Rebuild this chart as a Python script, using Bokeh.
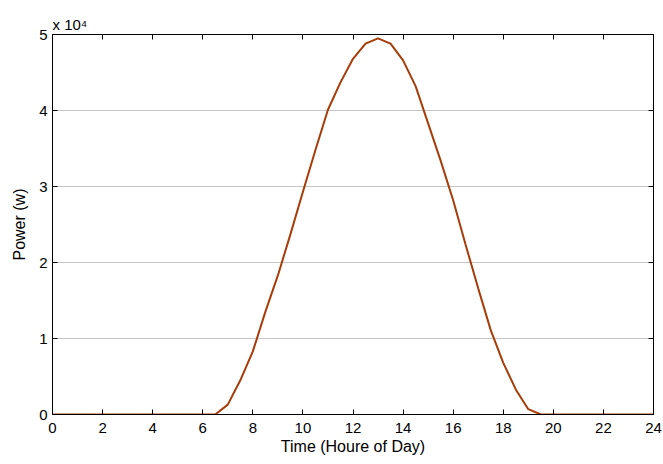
from bokeh.plotting import figure
from bokeh.models import LinearAxis, FixedTicker, Range1d
from bokeh.embed import file_html
from bokeh.resources import INLINE

# Hour of day
time_h = [0, 0.5, 1, 1.5, 2, 2.5, 3, 3.5, 4, 4.5, 5, 5.5, 6, 6.5,
          7, 7.5, 8, 8.5, 9, 9.5, 10, 10.5, 11, 11.5, 12, 12.5, 13, 13.5,
          14, 14.5, 15, 15.5, 16, 16.5, 17, 17.5, 18, 18.5, 19, 19.5,
          20, 20.5, 21, 21.5, 22, 22.5, 23, 23.5, 24]
# Power (W)
power_w = [0, 0, 0, 0, 0, 0, 0, 0, 0, 0, 0, 0, 0, 0,
           1300, 4500, 8300, 13500, 18300, 23700, 29300, 34800, 40100, 43700,
           46800, 48800, 49500, 48800,
           46600, 43200, 38300, 33400, 28200, 22300, 16600, 11100, 6800, 3300,
           700, 0,
           0, 0, 0, 0, 0, 0, 0, 0, 0]

x_ticks = [0, 2, 4, 6, 8, 10, 12, 14, 16, 18, 20, 22, 24]
y_ticks = [0, 10000, 20000, 30000, 40000, 50000]
y_tick_labels = ["0", "1", "2", "3", "4", "5"]
y_scale_text = "x 10\u2074"

FONT = "Liberation Sans"

p = figure(width=663, height=464, output_backend="svg", toolbar_location=None,
           x_range=Range1d(0, 24), y_range=Range1d(0, 50000),
           min_border_left=52, min_border_right=10, min_border_top=34,
           min_border_bottom=50, title=y_scale_text)
p.title.align = "left"
p.title.offset = 0
p.title.standoff = 3
p.title.text_font = FONT
p.title.text_font_size = "15px"
p.title.text_font_style = "normal"
p.title.text_color = "black"

p.outline_line_color = "black"
p.outline_line_width = 1
p.background_fill_color = "white"
p.border_fill_color = "white"

p.xgrid.grid_line_color = None
p.ygrid.ticker = FixedTicker(ticks=y_ticks)
p.ygrid.grid_line_color = "#8a8a8a"
p.ygrid.grid_line_dash = "1 1"
p.ygrid.grid_line_width = 1

p.line(time_h, power_w, line_color="#A83C08", line_width=2)

def style(ax, labels=True):
    ax.axis_line_color = "black"
    ax.axis_line_width = 1
    ax.major_tick_in = 5
    ax.major_tick_out = 0
    ax.major_tick_line_color = "black"
    ax.major_tick_line_width = 1
    ax.minor_tick_line_color = None
    ax.major_label_text_font = FONT
    ax.major_label_text_font_size = "15px" if labels else "0px"
    ax.major_label_text_color = "black"
    ax.axis_label_text_font = FONT
    ax.axis_label_text_font_style = "normal"
    ax.axis_label_text_font_size = "16px"
    ax.axis_label_text_color = "black"

xb = p.xaxis[0]
xb.ticker = FixedTicker(ticks=x_ticks)
style(xb)
xb.major_label_standoff = 8
xb.axis_label = "Time (Houre of Day)"
xb.axis_label_standoff = 2

yl = p.yaxis[0]
yl.ticker = FixedTicker(ticks=y_ticks)
yl.major_label_overrides = {t: s for t, s in zip(y_ticks, y_tick_labels)}
style(yl)
yl.major_label_standoff = 5
yl.axis_label = "Power (w)"
yl.axis_label_standoff = 8

xt = LinearAxis(ticker=FixedTicker(ticks=x_ticks))
style(xt, labels=False)
xt.major_label_standoff = 0
p.add_layout(xt, "above")

yr = LinearAxis(ticker=FixedTicker(ticks=y_ticks))
style(yr, labels=False)
yr.major_label_standoff = 0
p.add_layout(yr, "right")

open("out.html", "w").write(file_html(p, INLINE))
